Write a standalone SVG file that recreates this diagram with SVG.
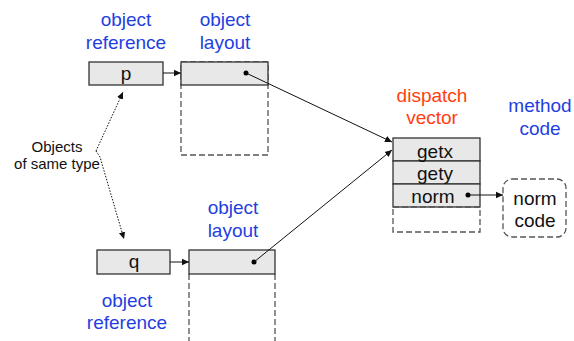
<svg xmlns="http://www.w3.org/2000/svg" width="574" height="341" viewBox="0 0 574 341">
  <style>
    text { font-family: "Liberation Sans", Arial, sans-serif; text-anchor: middle; }
    .lbl { font-size: 19px; fill: #1f40e0; }
    .red { font-size: 19px; fill: #ff4010; }
    .cell { fill: #e8e8e8; stroke: #333; stroke-width: 1.3; }
    .dash { fill: none; stroke: #555; stroke-width: 1.3; stroke-dasharray: 6 3; }
    .txt { font-size: 19px; fill: #111; }
    .note { font-size: 15px; fill: #111; }
    .wire { fill: none; stroke: #111; stroke-width: 1; }
    .dot { fill: #000; }
  </style>
  <defs>
    <marker id="arrow" markerWidth="8" markerHeight="8" refX="7" refY="4" orient="auto" markerUnits="userSpaceOnUse">
      <path d="M0,0.8 L7,4 L0,7.2 Z" fill="#111"/>
    </marker>
  </defs>

  <!-- labels -->
  <g id="labels">
    <text class="lbl" x="126" y="26">object</text>
    <text class="lbl" x="126" y="49">reference</text>
    <text class="lbl" x="225" y="26">object</text>
    <text class="lbl" x="225" y="49">layout</text>
    <text class="lbl" x="233" y="214">object</text>
    <text class="lbl" x="233" y="237">layout</text>
    <text class="lbl" x="127" y="307">object</text>
    <text class="lbl" x="127" y="329">reference</text>
    <text class="red" x="432" y="102">dispatch</text>
    <text class="red" x="432" y="124">vector</text>
    <text class="lbl" x="540" y="112">method</text>
    <text class="lbl" x="540" y="135">code</text>
    <text class="note" x="57" y="152">Objects</text>
    <text class="note" x="57" y="169">of same type</text>
  </g>

  <!-- reference p -->
  <g id="ref-p">
    <rect class="cell" x="89" y="62" width="74" height="23"/>
    <text class="txt" x="126" y="80">p</text>
  </g>

  <!-- layout of p -->
  <g id="layout-p">
    <rect class="dash" x="181" y="62" width="87" height="93"/>
    <rect class="cell" x="181" y="62" width="87" height="23"/>
    <circle class="dot" cx="246" cy="73" r="2.5"/>
  </g>

  <!-- reference q -->
  <g id="ref-q">
    <rect class="cell" x="97" y="250" width="73" height="24"/>
    <text class="txt" x="134" y="268">q</text>
  </g>

  <!-- layout of q -->
  <g id="layout-q">
    <path class="dash" d="M189,274 V341 M275,274 V341"/>
    <rect class="cell" x="189" y="250" width="86" height="24"/>
    <circle class="dot" cx="254" cy="262" r="2.5"/>
  </g>

  <!-- dispatch vector -->
  <g id="dispatch">
    <rect class="cell" x="393" y="138" width="87" height="23"/>
    <rect class="cell" x="393" y="161" width="87" height="23"/>
    <rect class="cell" x="393" y="184" width="87" height="23"/>
    <rect class="dash" x="393" y="207" width="87" height="25"/>
    <text class="txt" x="435" y="158">getx</text>
    <text class="txt" x="435" y="180">gety</text>
    <text class="txt" x="433" y="203">norm</text>
    <circle class="dot" cx="468" cy="195" r="2.5"/>
  </g>

  <!-- method code -->
  <g id="norm-code">
    <rect class="dash" x="503" y="179" width="63" height="58" rx="9"/>
    <text class="txt" x="535" y="205">norm</text>
    <text class="txt" x="535" y="227">code</text>
  </g>

  <!-- connectors -->
  <g id="connectors">
    <line class="wire" x1="163" y1="73" x2="181" y2="73" stroke="#444" marker-end="url(#arrow)"/>
    <line class="wire" x1="170" y1="262" x2="189" y2="262" stroke="#444" marker-end="url(#arrow)"/>
    <line class="wire" x1="246" y1="73" x2="392" y2="142" marker-end="url(#arrow)"/>
    <line class="wire" x1="254" y1="262" x2="392" y2="150" marker-end="url(#arrow)"/>
    <line class="wire" x1="468" y1="195" x2="503" y2="195" marker-end="url(#arrow)"/>
    <path class="wire" d="M96,151 L123,92" stroke-dasharray="1.5 1.5" marker-end="url(#arrow)"/>
    <path class="wire" d="M96,151 L100,157 L124,239" stroke-dasharray="1.5 1.5" marker-end="url(#arrow)"/>
  </g>
</svg>
